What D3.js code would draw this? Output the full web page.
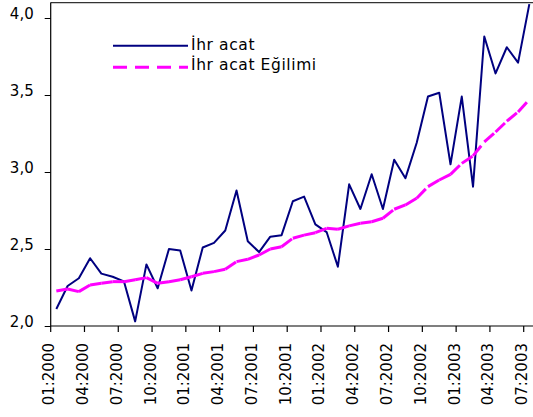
<!DOCTYPE html>
<html>
<head>
<meta charset="utf-8">
<script src="https://cdnjs.cloudflare.com/ajax/libs/d3/7.8.5/d3.min.js"></script>
<style>
  body { margin: 0; background: #fff; }
  svg { display: block; }
</style>
</head>
<body>
<script>
// monthly categories 01:2000 .. 07:2003
const months = [];
for (let yr = 2000; yr <= 2003; yr++) {
    for (let m = 1; m <= 12; m++) {
        if (yr === 2003 && m > 7) break;
        months.push((m < 10 ? '0' + m : '' + m) + ':' + yr);
    }
}

const tickLabels = ['01:2000', '04:2000', '07:2000', '10:2000', '01:2001', '04:2001', '07:2001',
                    '10:2001', '01:2002', '04:2002', '07:2002', '10:2002', '01:2003', '04:2003', '07:2003'];

const yTicks = [2.0, 2.5, 3.0, 3.5, 4.0];

const ihracat = [2.11, 2.26, 2.31, 2.44, 2.34, 2.32, 2.29, 2.03, 2.40, 2.245, 2.50, 2.49,
                 2.23, 2.51, 2.54, 2.62, 2.88, 2.55, 2.48, 2.58, 2.59, 2.81, 2.84, 2.66,
                 2.61, 2.385, 2.92, 2.76, 2.985, 2.76, 3.08, 2.96, 3.19, 3.49, 3.515, 3.05,
                 3.49, 2.905, 3.88, 3.64, 3.81, 3.71, 4.09];

const egilim = [2.227, 2.24, 2.223, 2.266, 2.277, 2.288, 2.288, 2.30, 2.314, 2.277, 2.288, 2.30,
                2.32, 2.342, 2.353, 2.368, 2.418, 2.433, 2.461, 2.50, 2.515, 2.57, 2.59, 2.606,
                2.634, 2.628, 2.65, 2.667, 2.677, 2.70, 2.758, 2.786, 2.83, 2.905, 2.948, 2.985,
                3.056, 3.105, 3.195, 3.26, 3.33, 3.39, 3.47];

const seriesNames = ['İhr acat', 'İhr acat Eğilimi'];

const width = 533, height = 417;
const left = 50.7, step = 11.262;
const font = '"DejaVu Sans", Verdana, sans-serif';

const svg = d3.select('body').append('svg')
    .attr('width', width)
    .attr('height', height);

const x = d3.scaleBand()
    .domain(months)
    .range([left, left + months.length * step])
    .padding(0);

const y = d3.scaleLinear()
    .domain([2.0, 4.1])
    .range([326, 2.6]);

const cx = d => x(d) + x.bandwidth() / 2;

// top border of plot area
svg.append('line')
    .attr('x1', left).attr('x2', width)
    .attr('y1', y(4.1)).attr('y2', y(4.1))
    .attr('stroke', '#333').attr('stroke-width', 1.2);

// y axis
const yAxis = svg.append('g')
    .attr('transform', `translate(${left},0)`)
    .call(d3.axisLeft(y)
        .tickValues(yTicks)
        .tickSize(6)
        .tickPadding(11)
        .tickFormat(d => d.toFixed(1).replace('.', ',')));
yAxis.select('.domain').attr('stroke', '#000').attr('stroke-width', 1.2)
    .attr('d', `M0,${y(2.0)}V${y(4.1)}`);
yAxis.selectAll('text')
    .attr('dy', '0')
    .attr('fill', '#000')
    .style('font-family', font)
    .style('font-size', '15px');

// x axis (ticks between categories)
const xAxis = svg.append('g');
xAxis.append('line')
    .attr('x1', left).attr('x2', width)
    .attr('y1', y(2.0)).attr('y2', y(2.0))
    .attr('stroke', '#000').attr('stroke-width', 1.2);

const xt = xAxis.selectAll('.xtick')
    .data(tickLabels)
    .enter().append('g')
    .attr('class', 'xtick')
    .attr('transform', d => `translate(${x(d)},${y(2.0)})`);
xt.append('line')
    .attr('y2', 6)
    .attr('stroke', '#000').attr('stroke-width', 1.2);
xt.append('text')
    .attr('transform', 'translate(3.5,17) rotate(-90)')
    .attr('text-anchor', 'end')
    .style('font-family', font)
    .style('font-size', '15px')
    .text(d => d);

// İhracat line
const line = d3.line()
    .x((d, i) => cx(months[i]))
    .y(d => y(d));

svg.append('path')
    .datum(ihracat)
    .attr('d', line)
    .attr('fill', 'none')
    .attr('stroke', '#000080')
    .attr('stroke-width', 2)
    .attr('stroke-linejoin', 'round');

// trend line: dash pattern restarts at every segment
svg.append('g')
    .selectAll('line')
    .data(d3.pairs(egilim.map((v, i) => [cx(months[i]), y(v)])))
    .enter().append('line')
    .attr('x1', d => d[0][0]).attr('y1', d => d[0][1])
    .attr('x2', d => d[1][0]).attr('y2', d => d[1][1])
    .attr('stroke', '#ff00ff')
    .attr('stroke-width', 3)
    .attr('stroke-dasharray', '13,7');

// legend
const legend = svg.append('g');
legend.append('line')
    .attr('x1', 113).attr('x2', 188)
    .attr('y1', 45.7).attr('y2', 45.7)
    .attr('stroke', '#000080').attr('stroke-width', 2);
legend.append('line')
    .attr('x1', 113).attr('x2', 188)
    .attr('y1', 67.3).attr('y2', 67.3)
    .attr('stroke', '#ff00ff').attr('stroke-width', 3)
    .attr('stroke-dasharray', '14,8');
legend.selectAll('text')
    .data(seriesNames)
    .enter().append('text')
    .attr('x', 191)
    .attr('y', (d, i) => 50 + i * 19.5)
    .style('font-family', font)
    .style('font-size', '15.5px')
    .style('letter-spacing', '0.6px')
    .text(d => d);
</script>
</body>
</html>
